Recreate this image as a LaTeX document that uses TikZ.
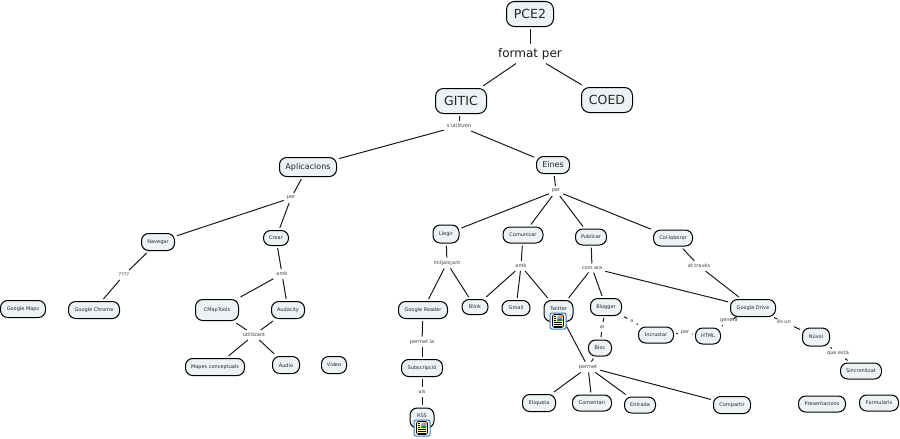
\documentclass[tikz,border=0pt]{standalone}
\usepackage{fontspec}
\setmainfont{DejaVu Sans}
\usetikzlibrary{
  positioning,
  calc
}
\definecolor{conceptfill}{HTML}{EDF3F5}
\definecolor{iconblue}{HTML}{3A78C2}

\begin{document}
\begin{tikzpicture}[x=0.75pt, y=-0.75pt, every node/.style={font=\fontsize{3.75}{5}\selectfont},
  size/.style 2 args={minimum width=#1*0.75pt, minimum height=#2*0.75pt},
  concept/.style={draw=black, line width=0.75pt, fill=conceptfill, rounded corners=5.4pt, inner sep=0pt, outer sep=1.9pt, text=black!85},
  big/.style={concept, rounded corners=6pt, font=\fontsize{9.4}{11}\selectfont},
  mid/.style={concept, font=\fontsize{6}{7}\selectfont},
  phrase/.style={inner sep=2.1pt, text=black!75},
  bigphrase/.style={inner sep=2.6pt, text=black!90, font=\fontsize{9}{11}\selectfont},
  link/.style={line width=0.75pt, black!90},
  iconbox/.style={draw=iconblue, line width=0.75pt, fill=white, rounded corners=1.5pt, inner sep=0pt, minimum size=12pt, path picture={
    \begin{scope}[shift={(path picture bounding box.center)}]
      \draw[black, fill=yellow!30, line width=0.5pt] (-5.5,-6.5) rectangle (5.5,6.5);
      \fill[blue!40] (-0.8,-5.4) rectangle (4.4,0);
      \fill[green!55!black] (-0.8,-1.5) -- (2,-3) -- (4.4,-1.5) -- (4.4,0) -- (-0.8,0) -- cycle;
      \fill[orange] (2,-5.4) rectangle (4.4,-3.6);
      \draw[black, line width=0.35pt] (-4.4,-4.6) -- (-1.8,-4.6) (-4.4,-2.8) -- (-1.8,-2.8) (-4.4,-1) -- (-1.8,-1) (-4.4,1.2) -- (4.4,1.2) (-4.4,3) -- (4.4,3) (-4.4,4.8) -- (4.4,4.8);
    \end{scope}}}
]
\useasboundingbox (0,0) rectangle (900,439);

% Top of the map
\node[big, size={47}{25}] (pce) at (530,14) {PCE2};
\node[bigphrase] (format) at (530,54) {format per};
\node[big, size={51}{25}] (gitic) at (461,101) {GITIC};
\node[big, size={51}{25}] (coed) at (607,100) {COED};
\node[phrase] (utilitzen) at (459,126) {s'utilitzen};
\node[mid, size={57}{19}] (aplicacions) at (308,167) {Aplicacions};
\node[mid, size={33}{17}] (eines) at (553,165) {Eines};

% Aplicacions branch
\node[phrase] (perapl) at (291,198) {per};
\node[concept, size={33}{17}] (navegar) at (158,242) {Navegar};
\node[concept, size={25}{15}] (crear) at (276,238) {Crear};
\node[phrase] (interroga) at (124,275) {????};
\node[phrase] (ambcrear) at (282,274) {amb};
\node[concept, size={45}{17}] (maps) at (23,309) {Google Maps};
\node[concept, size={51}{17}] (chrome) at (94,310) {Google Chrome};
\node[concept, size={43}{21}] (cmap) at (217,310) {CMapTools};
\node[concept, size={33}{17}] (audacity) at (288,310) {Audacity};
\node[phrase] (utilitzant) at (254,335) {utilitzant};
\node[concept, size={59}{17}] (mapes) at (215,367) {Mapes conceptuals};
\node[concept, size={27}{17}] (audio) at (286,365) {Àudio};
\node[concept, size={25}{17}] (video) at (334,365) {Vídeo};

% Eines branch
\node[phrase] (pereines) at (556,191) {per};
\node[concept, size={26}{18}] (llegir) at (446,234) {Llegir};
\node[concept, size={40}{16}] (comunicar) at (523,235) {Comunicar};
\node[concept, size={31}{16}] (publicar) at (591,237) {Publicar};
\node[concept, size={39}{16}] (collaborar) at (673,238) {Col·laborar};
\node[phrase] (mitjancant) at (447,263) {mitjançant};
\node[phrase] (ambcom) at (521,266) {amb};
\node[phrase] (comara) at (592,268) {com ara};
\node[phrase] (attraves) at (699,266) {at través};

% Llegir
\node[concept, size={49}{17}] (reader) at (423,310) {Google Reader};
\node[concept, size={26}{15}] (blink) at (475,307) {Blink};
\node[phrase] (permetla) at (422,342) {permet la};
\node[concept, size={41}{17}] (subscripcio) at (422,368) {Subscripció};
\node[phrase] (als) at (422,392) {als};
\node[concept, size={24}{20}, text depth=3pt] (rss) at (422,418) {RSS};
\node[iconbox] (rssicon) at (422,428) {};

% Comunicar i publicar
\node[concept, size={28}{15}] (gmail) at (516,308) {Gmail};
\node[concept, size={29}{21}, text depth=3pt] (twitter) at (558.5,311) {Twitter};
\node[concept, size={31}{17}] (blogger) at (606,307) {Blogger};
\node[phrase] (al) at (602,327) {al};
\node[concept, size={23}{16}] (bloc) at (600,348) {Bloc};
\node[phrase] (permet) at (588,367) {permet};
\node[concept, size={33}{17}] (etiqueta) at (539,403) {Etiqueta};
\node[concept, size={39}{16}] (comentari) at (592,403) {Comentari};
\node[concept, size={31}{16}] (entrada) at (640,405) {Entrada};
\node[concept, size={37}{17}] (compartir) at (732,405) {Compartir};
\node[phrase] (aprep) at (632,321) {a};
\node[concept, size={35}{16}] (incrustar) at (656,335) {Incrustar};
\node[phrase] (perhtml) at (685,333) {per};
\node[concept, size={25}{16}] (html) at (708,336) {HTML};
\node[phrase] (genera) at (729,321) {genera};

% Google Drive
\node[concept, size={45}{17}] (drive) at (753,308) {Google Drive};
\node[phrase] (esun) at (784,322) {és un};
\node[concept, size={27}{18}] (nuvol) at (816,337) {Núvol};
\node[phrase] (queesta) at (838,353) {que està};
\node[concept, size={41}{16}] (sincronitzat) at (861,371) {Sincronitzat};
\node[concept, size={47}{16}] (presentacions) at (822,404) {Presentacions};
\node[concept, size={39}{16}] (formularis) at (879,403) {Formularis};

% Links
\draw[link] (pce) -- (format);
\draw[link] (format) -- (gitic);
\draw[link] (format) -- (coed);
\draw[link] (gitic) -- (utilitzen);
\draw[link] (utilitzen) -- (aplicacions);
\draw[link] (utilitzen) -- (eines);
\draw[link] (aplicacions) -- (perapl);
\draw[link] (perapl) -- (navegar);
\draw[link] (perapl) -- (crear);
\draw[link] (navegar) -- (interroga);
\draw[link] (interroga) -- (chrome);
\draw[link] (crear) -- (ambcrear);
\draw[link] (ambcrear) -- (cmap);
\draw[link] (ambcrear) -- (audacity);
\draw[link] (cmap) -- (utilitzant);
\draw[link] (audacity) -- (utilitzant);
\draw[link] (utilitzant) -- (mapes);
\draw[link] (utilitzant) -- (audio);
\draw[link] (eines) -- (pereines);
\draw[link] (pereines) -- (llegir);
\draw[link] (pereines) -- (comunicar);
\draw[link] (pereines) -- (publicar);
\draw[link] (pereines) -- (collaborar);
\draw[link] (llegir) -- (mitjancant);
\draw[link] (mitjancant) -- (reader);
\draw[link] (mitjancant) -- (blink);
\draw[link] (comunicar) -- (ambcom);
\draw[link] (ambcom) -- (blink);
\draw[link] (ambcom) -- (gmail);
\draw[link] (ambcom) -- (twitter);
\draw[link] (publicar) -- (comara);
\draw[link] (comara) -- (twitter);
\draw[link] (comara) -- (blogger);
\draw[link] (comara) -- (drive);
\draw[link] (collaborar) -- (attraves);
\draw[link] (attraves) -- (drive);
\draw[link] (reader) -- (permetla);
\draw[link] (permetla) -- (subscripcio);
\draw[link] (subscripcio) -- (als);
\draw[link] (als) -- (rss);
\draw[link] (twitter) -- (permet);
\draw[link] (blogger) -- (al);
\draw[link] (al) -- (bloc);
\draw[link] (bloc) -- (permet);
\draw[link] (permet) -- (etiqueta);
\draw[link] (permet) -- (comentari);
\draw[link] (permet) -- (entrada);
\draw[link] (permet) -- (compartir);
\draw[link] (blogger) -- (aprep);
\draw[link] (aprep) -- (incrustar);
\draw[link] (incrustar) -- (perhtml);
\draw[link] (perhtml) -- (html);
\draw[link] (html) -- (genera);
\draw[link] (genera) -- (drive);
\draw[link] (drive) -- (esun);
\draw[link] (esun) -- (nuvol);
\draw[link] (nuvol) -- (queesta);
\draw[link] (queesta) -- (sincronitzat);

% Twitter icon goes over the link
\node[iconbox] (twittericon) at (558,321) {};

\end{tikzpicture}
\end{document}
